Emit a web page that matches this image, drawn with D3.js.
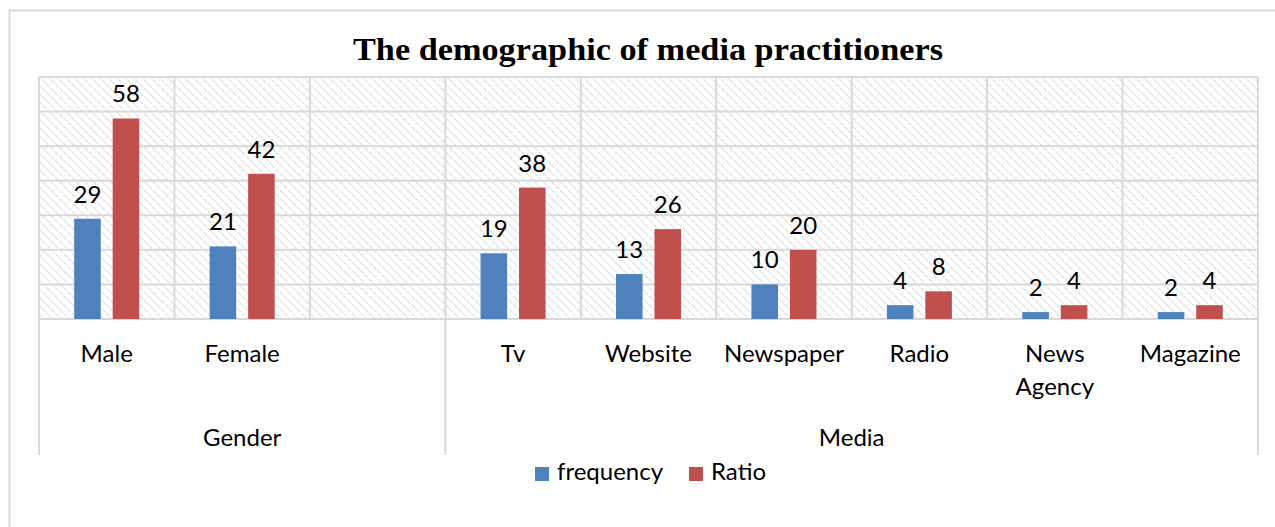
<!DOCTYPE html>
<html>
<head>
<meta charset="utf-8">
<script src="https://cdn.jsdelivr.net/npm/d3@7"></script>
<style>
  body { margin: 0; background: #fff; }
  text { font-family: Lato, "Open Sans", sans-serif; fill: #000; }
</style>
</head>
<body>
<script>
// chart data
var categories = ["Male", "Female", "", "Tv", "Website", "Newspaper", "Radio", "News Agency", "Magazine"];
var groups = [
    {name: "Gender", from: 0, to: 3},
    {name: "Media", from: 3, to: 9}
];
var frequency = [29, 21, null, 19, 13, 10, 4, 2, 2];
var ratio = [58, 42, null, 38, 26, 20, 8, 4, 4];
var seriesNames = ["frequency", "Ratio"];
var yTicks = [0, 10, 20, 30, 40, 50, 60, 70];

var width = 1275,
    height = 527;

var margin = {"left": 39, "right": 17, "top": 77, "bottom": 208};
var plotW = width - margin.left - margin.right,
    plotH = height - margin.top - margin.bottom;

var colors = {"frequency": "#4F81BD", "Ratio": "#C0504D"};

var svg = d3.select("body").append("svg")
    .attr("width", width)
    .attr("height", height);

// outer chart border
svg.append("rect")
    .attr("x", 9.5).attr("y", 10.5)
    .attr("width", 1300).attr("height", 600)
    .attr("fill", "#fff")
    .attr("stroke", "#d9d9d9")
    .attr("stroke-width", 2);

// hatch pattern for plot area ("\" direction)
var defs = svg.append("defs");
var pat = defs.append("pattern")
    .attr("id", "hatch")
    .attr("patternUnits", "userSpaceOnUse")
    .attr("width", 6).attr("height", 6)
    .attr("patternTransform", "rotate(-45)");
pat.append("line")
    .attr("x1", 0).attr("y1", 0)
    .attr("x2", 0).attr("y2", 6)
    .attr("stroke", "#d6d6d6")
    .attr("stroke-width", 1.8)
    .attr("stroke-dasharray", "3,1");

var g = svg.append("g")
    .attr("transform", "translate(" + margin.left + "," + margin.top + ")");

var x0 = d3.scaleBand()
    .domain(d3.range(categories.length))
    .range([0, plotW])
    .paddingInner(0)
    .paddingOuter(0);

var groupW = x0.bandwidth() * 0.48;
var x1 = d3.scaleBand()
    .domain(seriesNames)
    .range([(x0.bandwidth() - groupW) / 2, (x0.bandwidth() + groupW) / 2])
    .paddingInner(0.31);

var y = d3.scaleLinear()
    .domain([0, 70])
    .range([plotH, 0]);

g.append("rect")
    .attr("width", plotW).attr("height", plotH)
    .attr("fill", "url(#hatch)");

// horizontal gridlines
g.selectAll(".hgrid")
    .data(yTicks).enter()
    .append("line")
    .attr("class", "hgrid")
    .attr("x1", 0).attr("x2", plotW)
    .attr("y1", function(d) { return y(d); })
    .attr("y2", function(d) { return y(d); })
    .attr("stroke", "#d9d9d9")
    .attr("stroke-width", 2);

// vertical gridlines between categories
var bounds = d3.range(categories.length + 1);
g.selectAll(".vgrid")
    .data(bounds).enter()
    .append("line")
    .attr("class", "vgrid")
    .attr("x1", function(d) { return d == categories.length ? plotW : x0(d); })
    .attr("x2", function(d) { return d == categories.length ? plotW : x0(d); })
    .attr("y1", 0)
    .attr("y2", function(d) {
        var isGroupEdge = groups.some(function(gr) { return gr.from == d || gr.to == d; });
        return isGroupEdge ? plotH + 136 : plotH;
    })
    .attr("stroke", "#d9d9d9")
    .attr("stroke-width", 2);

// bars
var seriesData = {"frequency": frequency, "Ratio": ratio};
seriesNames.forEach(function(s) {
    var vals = seriesData[s];
    var bars = g.selectAll(".bar-" + s)
        .data(vals.map(function(v, i) { return {i: i, v: v}; }).filter(function(d) { return d.v != null; }))
        .enter();

    bars.append("rect")
        .attr("x", function(d) { return x0(d.i) + x1(s); })
        .attr("y", function(d) { return y(d.v); })
        .attr("width", x1.bandwidth())
        .attr("height", function(d) { return plotH - y(d.v); })
        .attr("fill", colors[s]);

    bars.append("text")
        .attr("x", function(d) { return x0(d.i) + x1(s) + x1.bandwidth() / 2; })
        .attr("y", function(d) { return y(d.v) - 16; })
        .attr("text-anchor", "middle")
        .style("font-size", "24px")
        .text(function(d) { return d.v; });
});

// category labels (first level)
g.selectAll(".catlabel")
    .data(categories).enter()
    .append("text")
    .attr("class", "catlabel")
    .attr("text-anchor", "middle")
    .attr("y", plotH + 43)
    .style("font-size", "24px")
    .each(function(d, i) {
        var words = d == "News Agency" ? ["News", "Agency"] : [d];
        var t = d3.select(this);
        words.forEach(function(w, k) {
            t.append("tspan")
                .attr("x", x0(i) + x0.bandwidth() / 2)
                .attr("dy", k == 0 ? 0 : 33)
                .text(w);
        });
    });

// group labels (second level)
g.selectAll(".grouplabel")
    .data(groups).enter()
    .append("text")
    .attr("class", "grouplabel")
    .attr("text-anchor", "middle")
    .attr("x", function(d) { return (x0(d.from) + (d.to == categories.length ? plotW : x0(d.to))) / 2; })
    .attr("y", plotH + 127)
    .style("font-size", "24px")
    .text(function(d) { return d.name; });

// title
svg.append("text")
    .attr("x", 648)
    .attr("y", 60)
    .attr("text-anchor", "middle")
    .attr("textLength", 590)
    .attr("lengthAdjust", "spacingAndGlyphs")
    .style("font-family", "'Liberation Serif', serif")
    .style("font-weight", "bold")
    .style("font-size", "32px")
    .text("The demographic of media practitioners");

// legend
var legend = svg.selectAll(".legend")
    .data(seriesNames).enter()
    .append("g")
    .attr("class", "legend")
    .attr("transform", function(d, i) {
        return "translate(" + (i == 0 ? 535 : 689) + ",467)";
    });

legend.append("rect")
    .attr("width", 14).attr("height", 14)
    .attr("fill", function(d) { return colors[d]; });

legend.append("text")
    .attr("x", 22)
    .attr("y", 13)
    .style("font-size", "24px")
    .text(function(d) { return d; });
</script>
</body>
</html>
